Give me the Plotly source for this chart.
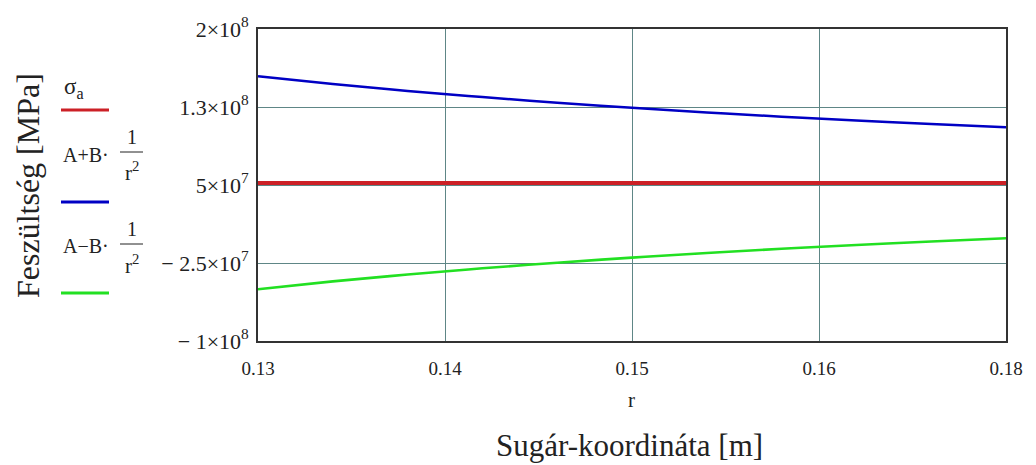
import plotly.graph_objects as go

# ---- data ----
r_values = [0.130, 0.135, 0.140, 0.145, 0.150, 0.155, 0.160, 0.165, 0.170, 0.175, 0.180]
sigma_a_r = [0.13, 0.18]
sigma_a = [5.2e7, 5.2e7]
a_plus = [1.546e8, 1.471e8, 1.405e8, 1.345e8, 1.291e8, 1.242e8, 1.198e8, 1.157e8, 1.121e8, 1.087e8, 1.056e8]
a_minus = [-5.02e7, -4.27e7, -3.61e7, -3.01e7, -2.47e7, -1.98e7, -1.54e7, -1.13e7, -0.77e7, -0.43e7, -0.12e7]

x_tickvals = [0.13, 0.1425, 0.155, 0.1675, 0.18]
x_ticktext = ["0.13", "0.14", "0.15", "0.16", "0.18"]
y_tickvals = [-1e8, -2.5e7, 5e7, 1.25e8, 2e8]
y_ticktext = ["\u2212 1\u00d710<sup>8</sup>", "\u2212 2.5\u00d710<sup>7</sup>", "5\u00d710<sup>7</sup>",
              "1.3\u00d710<sup>8</sup>", "2\u00d710<sup>8</sup>"]

RED = "#cc2026"
BLUE = "#0000c4"
GREEN = "#22e022"
GRID = "#5e8686"
FONT = "'Liberation Serif', 'Times New Roman', 'DejaVu Serif', serif"

# page body has an 8px margin -> shrink figure and shift by 8px
OFF = 8
W, H = 1036 - OFF, 465 - OFF
PX0, PX1 = 258, 1006   # plot area in page pixels
PY0, PY1 = 29, 341
L, T = PX0 - OFF, PY0 - OFF
R = W - (PX1 - OFF)
B = H - (PY1 - OFF)
PW, PH = PX1 - PX0, PY1 - PY0


def px(x):
    return (x - PX0) / PW


def py(y):
    return (PY1 - y) / PH


fig = go.Figure()
fig.add_trace(go.Scatter(x=sigma_a_r, y=sigma_a, mode="lines", line=dict(color=RED, width=4), showlegend=False))
fig.add_trace(go.Scatter(x=r_values, y=a_plus, mode="lines", line=dict(color=BLUE, width=2.5, shape="spline"), showlegend=False))
fig.add_trace(go.Scatter(x=r_values, y=a_minus, mode="lines", line=dict(color=GREEN, width=2.6, shape="spline"), showlegend=False))

fig.update_layout(
    width=W, height=H,
    margin=dict(l=L, r=R, t=T, b=B, autoexpand=False),
    paper_bgcolor="white", plot_bgcolor="white",
    font=dict(family=FONT, size=18, color="#222"),
    xaxis=dict(range=[0.13, 0.18], tickvals=x_tickvals, ticktext=x_ticktext, automargin=False,
               showgrid=True, gridcolor=GRID, gridwidth=1.2,
               showline=True, linecolor="#333", linewidth=1.6, mirror=True,
               ticks="outside", ticklen=9, tickcolor="rgba(0,0,0,0)",
               zeroline=False, tickfont=dict(family=FONT, size=19)),
    yaxis=dict(range=[-1e8, 2e8], tickvals=y_tickvals, ticktext=y_ticktext, automargin=False,
               showgrid=True, gridcolor=GRID, gridwidth=1.2,
               showline=True, linecolor="#333", linewidth=1.6, mirror=True,
               ticks="outside", ticklen=3, tickcolor="rgba(0,0,0,0)",
               zeroline=False, tickfont=dict(family=FONT, size=22)),
)

ann = []
# axis titles
ann.append(dict(text="r", x=px(631), y=py(400), xref="paper", yref="paper", showarrow=False,
                xanchor="center", yanchor="middle", font=dict(family=FONT, size=21)))
ann.append(dict(text="Sugár-koordináta [m]", x=px(629), y=py(445), xref="paper", yref="paper", showarrow=False,
                xanchor="center", yanchor="middle", font=dict(family=FONT, size=31)))
ann.append(dict(text="Feszültség [MPa]", x=px(28), y=py(186), xref="paper", yref="paper", showarrow=False,
                xanchor="center", yanchor="middle", textangle=-90, font=dict(family=FONT, size=32)))

# legend texts
ann.append(dict(text="\u03c3<sub>a</sub>", x=px(62), y=py(88), xref="paper", yref="paper", showarrow=False,
                xanchor="left", yanchor="middle", font=dict(family=FONT, size=23)))
for base, yb, yone, ybar, yr in [("A+B\u00b7", 155, 137, 152, 171), ("A\u2212B\u00b7", 246, 229, 244, 264)]:
    ann.append(dict(text=base, x=px(61), y=py(yb), xref="paper", yref="paper", showarrow=False,
                    xanchor="left", yanchor="middle", font=dict(family=FONT, size=20)))
    ann.append(dict(text="1", x=px(132), y=py(yone), xref="paper", yref="paper", showarrow=False,
                    xanchor="center", yanchor="middle", font=dict(family=FONT, size=20)))
    ann.append(dict(text="r<sup>2</sup>", x=px(132), y=py(yr), xref="paper", yref="paper", showarrow=False,
                    xanchor="center", yanchor="middle", font=dict(family=FONT, size=21)))
fig.update_layout(annotations=ann)

shapes = []
for y, c in [(110, RED), (202, BLUE), (293, GREEN)]:
    shapes.append(dict(type="line", xref="paper", yref="paper", x0=px(61), x1=px(109), y0=py(y), y1=py(y),
                       line=dict(color=c, width=3)))
for ybar in [152, 244]:
    shapes.append(dict(type="line", xref="paper", yref="paper", x0=px(120), x1=px(143), y0=py(ybar), y1=py(ybar),
                       line=dict(color="#222", width=1)))
fig.update_layout(shapes=shapes)

fig.write_html("out.html")
